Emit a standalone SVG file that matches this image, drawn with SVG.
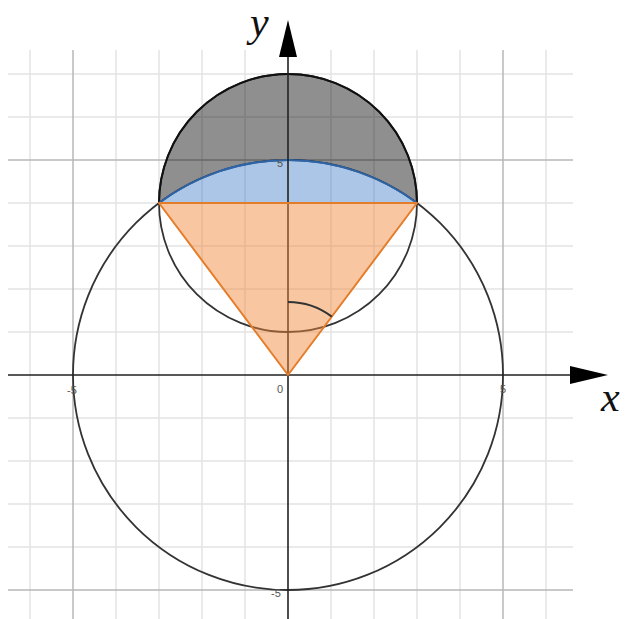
<svg xmlns="http://www.w3.org/2000/svg" width="626" height="619" viewBox="0 0 626 619">
<style>
.minor{stroke:#e3e3e3;stroke-width:1.5;fill:none}
.major{stroke:#b8b8b8;stroke-width:1.5;fill:none}
.axis{stroke:#222;stroke-width:1.6;fill:none}
.tick{font-family:"Liberation Sans",Arial,sans-serif;font-size:11px;fill:#555;text-anchor:middle}
.var{font-family:"Liberation Serif","Times New Roman",serif;font-style:italic;font-size:42px;fill:#111}
</style>
<rect width="626" height="619" fill="#fff"/>
<g id="grid">
<path class="minor" d="M30,50V619M116,50V619M159,50V619M202,50V619M245,50V619M331,50V619M374,50V619M417,50V619M460,50V619M546,50V619"/>
<path class="minor" d="M8,74H573M8,117H573M8,203H573M8,246H573M8,289H573M8,332H573M8,418H573M8,461H573M8,504H573M8,547H573"/>
<path class="major" d="M73,50V619M503,50V619M8,160H573M8,590H573"/>
</g>
<g id="big-circle">
<circle cx="288" cy="375" r="215" fill="none" stroke="#333" stroke-width="1.8"/>
</g>
<g id="small-circle">
<circle cx="288" cy="203" r="129" fill="none" stroke="#333" stroke-width="1.8"/>
</g>
<g id="gray-region">
<path d="M159,203 A129,129 0 0 1 417,203 A215,215 0 0 0 159,203 Z" fill="#000" fill-opacity="0.44"/>
<path d="M159,203 A129,129 0 0 1 417,203" fill="none" stroke="#111" stroke-width="2"/>
</g>
<g id="blue-region">
<path d="M159,203 A215,215 0 0 1 417,203 Z" fill="#2d70c0" fill-opacity="0.4"/>
<path d="M159,203 A215,215 0 0 1 417,203" fill="none" stroke="#2e65a8" stroke-width="2"/>
</g>
<g id="axes">
<path class="axis" d="M8,375H572M288,619V55"/>
<polygon points="570,366 608,375 570,384" fill="#000"/>
<polygon points="288,20 279,57 297,57" fill="#000"/>
<text class="var" x="601" y="411">x</text>
<text class="var" x="250" y="36">y</text>
</g>
<g id="triangle">
<path d="M288,375 L159,203 L417,203 Z" fill="#f08a3a" fill-opacity="0.48" stroke="#e47d2b" stroke-width="2" stroke-linejoin="round"/>
</g>
<g id="angle">
<path d="M288,302 A73,73 0 0 1 331.8,316.6" fill="none" stroke="#333" stroke-width="2"/>
</g>
<g id="ticks">
<text class="tick" x="72" y="394">-5</text>
<text class="tick" x="280" y="393">0</text>
<text class="tick" x="503" y="393">5</text>
<text class="tick" x="280" y="167">5</text>
<text class="tick" x="276" y="597">-5</text>
</g>
</svg>
